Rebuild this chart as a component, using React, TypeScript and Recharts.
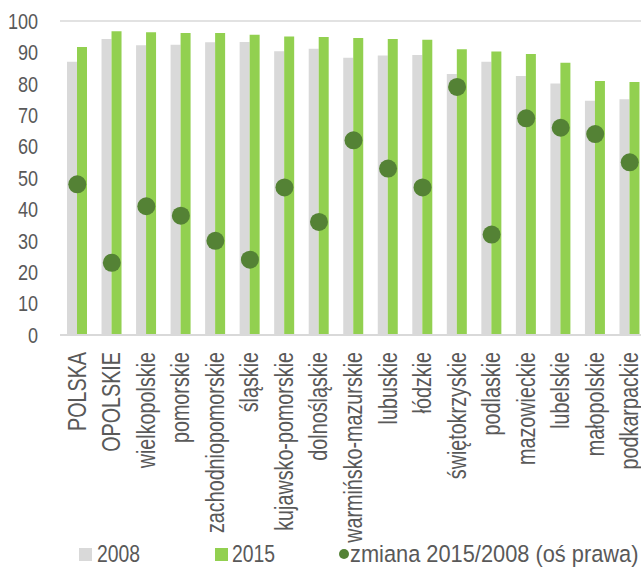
import React from "react";
import { ComposedChart, Bar, Scatter, XAxis, YAxis, CartesianGrid, Legend } from "recharts";

const categories = ["POLSKA","OPOLSKIE","wielkopolskie","pomorskie","zachodniopomorskie","śląskie","kujawsko-pomorskie","dolnośląskie","warmińsko-mazurskie","lubuskie","łódzkie","świętokrzyskie","podlaskie","mazowieckie","lubelskie","małopolskie","podkarpackie"];
const values2008 = [87, 94.3, 92.3, 92.4, 93.2, 93.3, 90.4, 91.2, 88.3, 89.0, 89.2, 83.1, 87.0, 82.5, 80.1, 74.6, 75.1];
const values2015 = [91.7, 96.7, 96.4, 96.2, 96.2, 95.6, 95.1, 94.9, 94.6, 94.3, 94.0, 91.0, 90.3, 89.5, 86.7, 80.9, 80.6];
const zmiana = [48, 23, 41, 38, 30, 24, 47, 36, 62, 53, 47, 79, 32, 69, 66, 64, 55];
const yTicks = [0, 10, 20, 30, 40, 50, 60, 70, 80, 90, 100];

const data = categories.map((c, i) => ({ name: c, y2008: values2008[i], y2015: values2015[i], zmiana: zmiana[i] }));

const FONT = "'Liberation Sans', Arial, sans-serif";
const TEXT = "#595959";
const GRAY = "#D9D9D9";
const GREEN = "#92D050";
const DARK = "#548235";

const XTick = (props: any) => {
  const { x, y, payload } = props;
  return (
    <text
      x={0}
      y={0}
      transform={`translate(${x - 0.5}, ${y + 9}) rotate(-90) scale(0.79, 1)`}
      textAnchor="end"
      dy="0.36em"
      fontFamily={FONT}
      fontSize={25}
      fill={TEXT}
    >
      {payload.value}
    </text>
  );
};

const YTick = (props: any) => {
  const { x, y, payload } = props;
  return (
    <text
      x={0}
      y={0}
      transform={`translate(${x}, ${y}) scale(0.84, 1)`}
      textAnchor="end"
      dy="0.36em"
      fontFamily={FONT}
      fontSize={21.5}
      fill={TEXT}
    >
      {payload.value}
    </text>
  );
};

const LegendContent = () => {
  const txt: React.CSSProperties = {
    position: "absolute", top: 1, fontFamily: FONT, fontSize: 24.5, color: TEXT, lineHeight: "28px",
    whiteSpace: "nowrap", transform: "scaleX(0.79)", transformOrigin: "left center",
  };
  return (
    <div style={{ position: "relative", width: 641, height: 28 }}>
      <div style={{ position: "absolute", left: 79, top: 9, width: 13, height: 13, background: GRAY }} />
      <span style={{ ...txt, left: 97 }}>2008</span>
      <div style={{ position: "absolute", left: 215, top: 9, width: 13, height: 13, background: GREEN }} />
      <span style={{ ...txt, left: 232 }}>2015</span>
      <div style={{ position: "absolute", left: 339, top: 10, width: 10, height: 10, borderRadius: "50%", background: DARK }} />
      <span style={{ ...txt, left: 350, transform: "scaleX(0.89)" }}>zmiana 2015/2008 (oś prawa)</span>
    </div>
  );
};

export default function App() {
  return (
    <div style={{ position: "absolute", left: 0, top: 0, width: 641, height: 567, overflow: "hidden" }}>
      <ComposedChart
        width={647}
        height={567}
        data={data}
        margin={{ top: 21, right: 0, bottom: 0, left: 0 }}
        barGap={0}
      >
        <CartesianGrid vertical={false} stroke={GRAY} strokeWidth={1.5} />
        <XAxis
          dataKey="name"
          interval={0}
          height={204}
          tick={<XTick />}
          tickLine={false}
          axisLine={{ stroke: GRAY, strokeWidth: 2 }}
        />
        <YAxis
          yAxisId="left"
          domain={[0, 100]}
          ticks={yTicks}
          width={60}
          axisLine={false}
          tickLine={false}
          tickSize={0}
          tickMargin={22}
          tick={<YTick />}
        />
        <YAxis yAxisId="right" orientation="right" domain={[0, 100]} hide />
        <Bar yAxisId="left" dataKey="y2008" name="2008" fill={GRAY} barSize={10} isAnimationActive={false} />
        <Bar yAxisId="left" dataKey="y2015" name="2015" fill={GREEN} barSize={10} isAnimationActive={false} />
        <Scatter yAxisId="right" dataKey="zmiana" name="zmiana 2015/2008 (oś prawa)" fill={DARK} isAnimationActive={false}
          shape={(p: any) => <circle cx={p.cx} cy={p.cy} r={9} fill={DARK} />} />
        <Legend verticalAlign="bottom" height={28} wrapperStyle={{ left: 0, width: 641 }} content={<LegendContent />} />
      </ComposedChart>
    </div>
  );
}
